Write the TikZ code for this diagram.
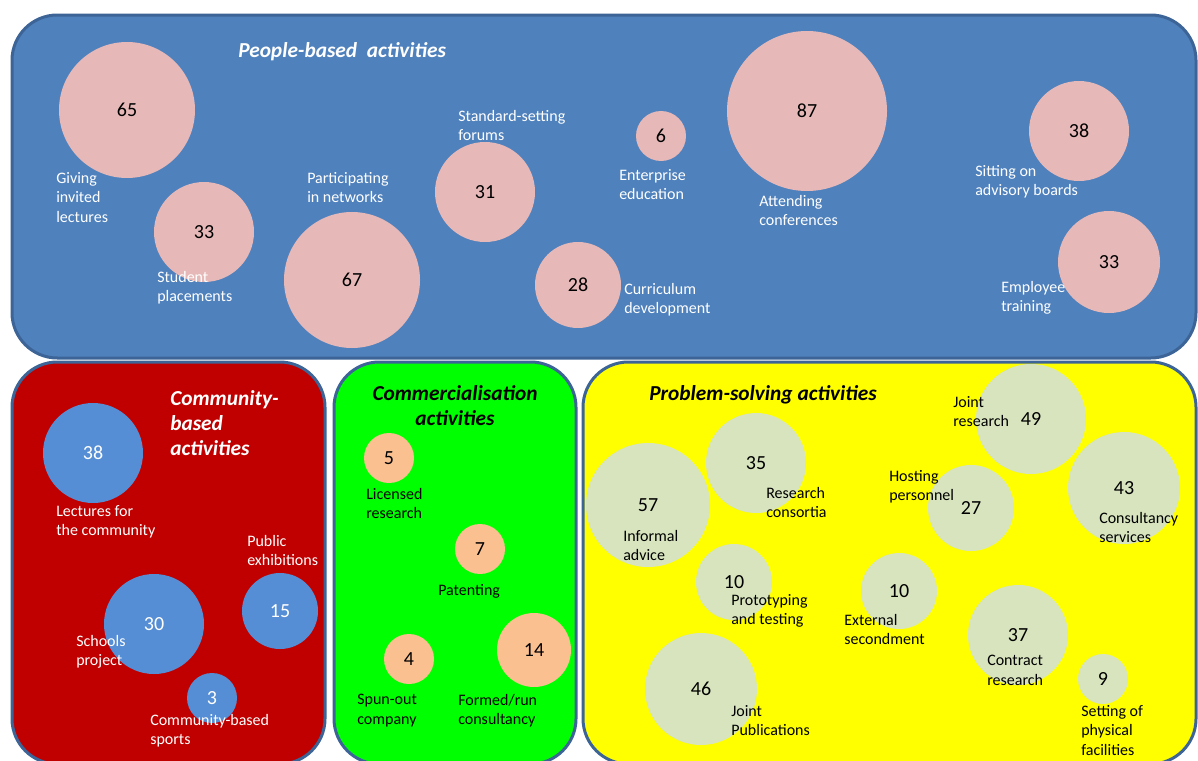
\documentclass[tikz,border=0pt]{standalone}
\usepackage{fontspec}
\setmainfont{Carlito}
\definecolor{peopleBlue}{HTML}{4F81BD}
\definecolor{frameBlue}{HTML}{3C6496}
\definecolor{commRed}{HTML}{C00000}
\definecolor{commGreen}{HTML}{00FF00}
\definecolor{probYellow}{HTML}{FFFF00}
\definecolor{bubPink}{HTML}{E6B9B8}
\definecolor{bubBlue}{HTML}{558ED5}
\definecolor{bubOrange}{HTML}{FAC090}
\definecolor{bubSage}{HTML}{D7E4BD}
\tikzset{
  every picture/.style={font={\fontsize{12}{14.6}\selectfont}, >=stealth}}

\begin{document}
\begin{tikzpicture}[x=0.75pt, y=-0.75pt,
    area/.style={draw=frameBlue, line width=2.25pt, rounded corners=34pt},
    bub/.style={circle, inner sep=0pt, minimum size=#1*1.5pt,
      font={\fontsize{15}{18}\selectfont}},
    pinkBub/.style={bub=#1, fill=bubPink},
    blueBub/.style={bub=#1, fill=bubBlue, text=white},
    orangeBub/.style={bub=#1, fill=bubOrange},
    sageBub/.style={bub=#1, fill=bubSage},
    lbl/.style={anchor=north west, inner sep=0pt, align=left, yshift=-0.75pt},
    head/.style={anchor=north west, inner sep=0pt, align=left,
      font={\fontsize{16}{19}\selectfont\bfseries\itshape}}]

  \useasboundingbox (0,0) rectangle (1198,760);

  \draw[area, fill=peopleBlue] (12,15) rectangle (1196,358);
  \draw[area, fill=commRed] (12,362) rectangle (325,764);
  \draw[area, fill=commGreen] (334,362) rectangle (576,764);
  \draw[area, fill=probYellow] (583,362) rectangle (1196,764);

  \node[pinkBub=68] (p65) at (127,110) {65};
  \node[pinkBub=50] (p33a) at (204,232) {33};
  \node[pinkBub=68] (p67) at (352,280) {67};
  \node[pinkBub=50] (p31) at (485,192) {31};
  \node[pinkBub=25] (p6) at (661,136) {6};
  \node[pinkBub=43] (p28) at (578,285) {28};
  \node[pinkBub=80] (p87) at (807,111) {87};
  \node[pinkBub=50] (p38) at (1079,131) {38};
  \node[pinkBub=51] (p33b) at (1109,262) {33};

  \begin{scope}[every node/.append style={text=white}]
    \node[head] (hPeople) at (238,42) {People-based~~activities};
    \node[lbl] (tGiving) at (56,171) {Giving\\invited\\lectures};
    \node[lbl] (tStudent) at (157,270) {Student\\placements};
    \node[lbl] (tNetworks) at (307,171) {Participating\\in networks};
    \node[lbl] (tForums) at (458,109) {Standard-setting\\forums};
    \node[lbl] (tEnterprise) at (619,168) {Enterprise\\education};
    \node[lbl] (tConferences) at (759,194) {Attending\\conferences};
    \node[lbl] (tAdvisory) at (975,164) {Sitting on\\advisory boards};
    \node[lbl] (tCurriculum) at (624,282) {Curriculum\\development};
    \node[lbl] (tEmployee) at (1001,280) {Employee\\training};
  \end{scope}

  \node[blueBub=50] (c38) at (93,453) {38};
  \node[blueBub=50] (c30) at (154,624) {30};
  \node[blueBub=38] (c15) at (280,611) {15};
  \node[blueBub=25] (c3) at (212,698) {3};

  \begin{scope}[every node/.append style={text=white}]
    \node[head] (hCommunity) at (170,390) {Community-\\based\\activities};
    \node[lbl] (tLectures) at (56,504) {Lectures for\\the community};
    \node[lbl] (tExhibitions) at (247,534) {Public\\exhibitions};
    \node[lbl] (tSchools) at (76,634) {Schools\\project};
    \node[lbl] (tSports) at (150,713) {Community-based\\sports};
  \end{scope}

  \node[orangeBub=25] (m5) at (389,458) {5};
  \node[orangeBub=25] (m7) at (480,549) {7};
  \node[orangeBub=25] (m4) at (409,659) {4};
  \node[orangeBub=37] (m14) at (534,650) {14};

  \node[head, anchor=north, align=center] (hCommercial) at (455,385) {Commercialisation\\activities};
  \node[lbl] (tLicensed) at (366,487) {Licensed\\research};
  \node[lbl] (tPatenting) at (438,583) {Patenting};
  \node[lbl] (tSpunOut) at (357,693) {Spun-out\\company};
  \node[lbl] (tFormed) at (458,693) {Formed/run\\consultancy};

  \node[sageBub=55] (s49) at (1031,419) {49};
  \node[sageBub=50] (s35) at (756,463) {35};
  \node[sageBub=62] (s57) at (648,505) {57};
  \node[sageBub=43] (s27) at (971,508) {27};
  \node[sageBub=56] (s43) at (1124,488) {43};
  \node[sageBub=38] (s10a) at (734,582) {10};
  \node[sageBub=38] (s10b) at (899,591) {10};
  \node[sageBub=50] (s37) at (1018,635) {37};
  \node[sageBub=56] (s46) at (701,689) {46};
  \node[sageBub=25] (s9) at (1103,679) {9};

  \node[head] (hProblem) at (649,385) {Problem-solving activities};
  \node[lbl] (tJointRes) at (953,395) {Joint\\research};
  \node[lbl] (tConsortia) at (766,486) {Research\\consortia};
  \node[lbl] (tHosting) at (889,469) {Hosting\\personnel};
  \node[lbl] (tInformal) at (623,529) {Informal\\advice};
  \node[lbl] (tConsultancy) at (1099,511) {Consultancy\\services};
  \node[lbl] (tPrototyping) at (731,593) {Prototyping\\and testing};
  \node[lbl] (tExternal) at (844,613) {External\\secondment};
  \node[lbl] (tContract) at (987,654) {Contract\\research};
  \node[lbl] (tJointPub) at (731,704) {Joint\\Publications};
  \node[lbl] (tSetting) at (1081,704) {Setting of\\physical\\facilities};
\end{tikzpicture}
\end{document}
